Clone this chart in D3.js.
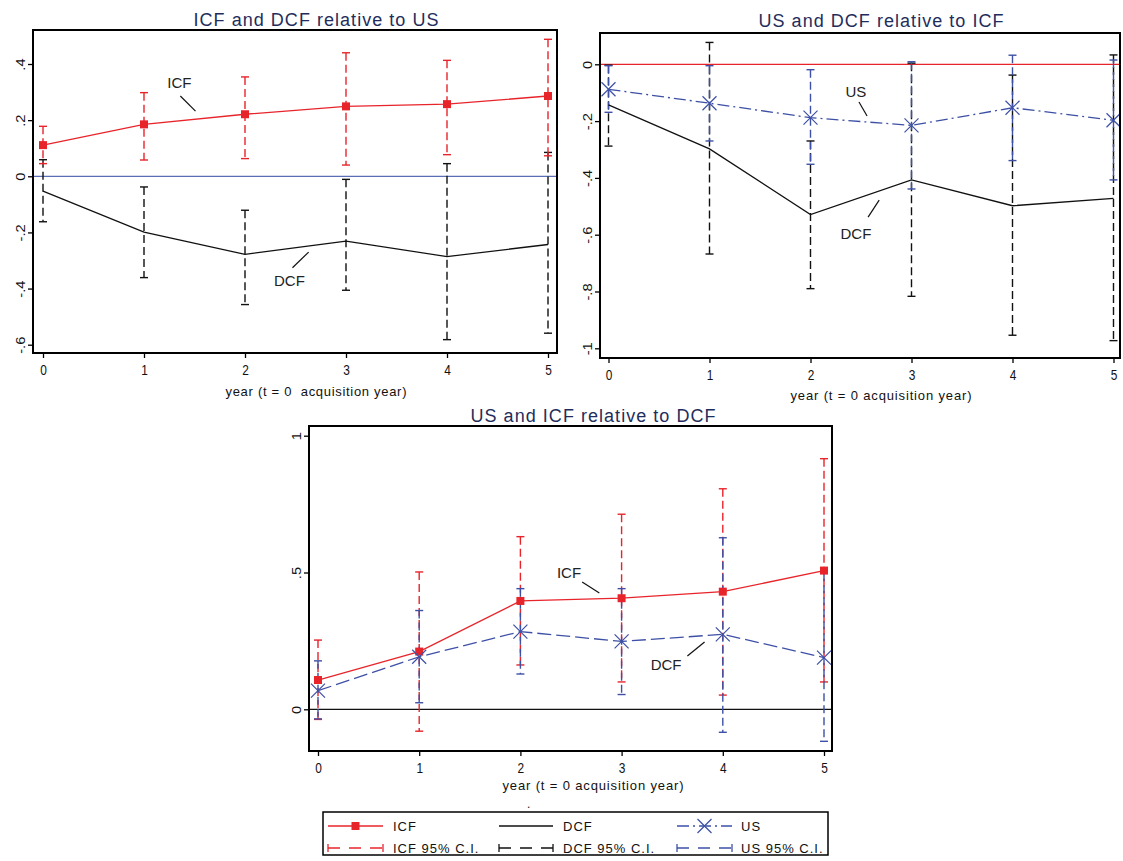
<!DOCTYPE html>
<html>
<head>
<meta charset="utf-8">
<script src="https://cdn.jsdelivr.net/npm/d3@7"></script>
<style>
  html, body { margin: 0; padding: 0; background: #fff; }
  svg { display: block; }
  text { font-family: "Liberation Sans", Arial, sans-serif; white-space: pre; }
</style>
</head>
<body>
<svg id="chart" width="1123" height="861"></svg>
<script>
// ---------------- DATA ----------------
const years = [0, 1, 2, 3, 4, 5];

// Panel 1: ICF and DCF relative to US
const p1Title = "ICF and DCF relative to US";
const p1XTitle = "year (t = 0  acquisition year)";
const p1YTicks = [-0.6, -0.4, -0.2, 0, 0.2, 0.4];
const p1IcfEst = [0.111, 0.185, 0.221, 0.249, 0.257, 0.286];
const p1IcfLo  = [0.045, 0.058, 0.063, 0.040, 0.077, 0.073];
const p1IcfHi  = [0.178, 0.298, 0.354, 0.440, 0.413, 0.488];
const p1DcfEst = [-0.053, -0.199, -0.278, -0.231, -0.286, -0.243];
const p1DcfLo  = [-0.162, -0.361, -0.457, -0.406, -0.582, -0.559];
const p1DcfHi  = [0.059, -0.038, -0.121, -0.011, 0.045, 0.085];

// Panel 2: US and DCF relative to ICF
const p2Title = "US and DCF relative to ICF";
const p2XTitle = "year (t = 0 acquisition year)";
const p2YTicks = [-1, -0.8, -0.6, -0.4, -0.2, 0];
const p2UsEst  = [-0.088, -0.137, -0.188, -0.215, -0.153, -0.197];
const p2UsLo   = [-0.169, -0.270, -0.352, -0.439, -0.339, -0.407];
const p2UsHi   = [-0.005, -0.005, -0.019, 0.009, 0.032, 0.015];
const p2DcfEst = [-0.143, -0.298, -0.529, -0.407, -0.498, -0.472];
const p2DcfLo  = [-0.288, -0.668, -0.790, -0.817, -0.954, -0.973];
const p2DcfHi  = [-0.003, 0.077, -0.270, 0.004, -0.038, 0.033];

// Panel 3: US and ICF relative to DCF
const p3Title = "US and ICF relative to DCF";
const p3XTitle = "year (t = 0 acquisition year)";
const p3YTicks = [0, 0.5, 1];
const p3IcfEst = [0.107, 0.211, 0.396, 0.406, 0.430, 0.507];
const p3IcfLo  = [-0.037, -0.080, 0.162, 0.100, 0.052, 0.100];
const p3IcfHi  = [0.253, 0.502, 0.631, 0.713, 0.806, 0.916];
const p3UsEst  = [0.068, 0.192, 0.284, 0.248, 0.274, 0.189];
const p3UsLo   = [-0.035, 0.024, 0.129, 0.054, -0.084, -0.117];
const p3UsHi   = [0.177, 0.361, 0.441, 0.441, 0.627, 0.497];

const legendLabels = ["ICF", "DCF", "US", "ICF 95% C.I.", "DCF 95% C.I.", "US 95% C.I."];

// ---------------- STYLE ----------------
const RED = "#e8242b", BLACK = "#111111", BLUE = "#3d50a5", REFBLUE = "#5a6fb5", NAVY = "#1f2d5c";
const svg = d3.select("#chart");
const fmt = v => v === 0 ? "0" : String(+v.toFixed(2)).replace(/^(-?)0\./, "$1.");

function drawPanel(cfg) {
  const g = svg.append("g");
  const x = d3.scaleLinear().domain([0, 5]).range(cfg.xRange);
  const y = d3.scaleLinear().domain([cfg.yTicks[0], cfg.yTicks[cfg.yTicks.length - 1]]).range(cfg.yRange);
  const f = cfg.frame;

  // reference line at 0
  g.append("line").attr("x1", f.l).attr("x2", f.r).attr("y1", y(0)).attr("y2", y(0))
    .attr("stroke", cfg.refColor).attr("stroke-width", 1.3);

  // CIs
  cfg.series.forEach(s => {
    const cg = g.append("g");
    years.forEach((yr, i) => {
      cg.append("line").attr("x1", x(yr)).attr("x2", x(yr))
        .attr("y1", y(s.hi[i])).attr("y2", y(s.lo[i]))
        .attr("stroke", s.color).attr("stroke-width", 1.4).attr("stroke-dasharray", "8,4");
      [s.hi[i], s.lo[i]].forEach(v => {
        cg.append("line").attr("x1", x(yr) - 4).attr("x2", x(yr) + 4)
          .attr("y1", y(v)).attr("y2", y(v)).attr("stroke", s.color).attr("stroke-width", 1.4);
      });
    });
  });

  // lines and markers
  cfg.series.forEach(s => {
    const line = d3.line().x((d, i) => x(years[i])).y(d => y(d));
    g.append("path").datum(s.est).attr("d", line).attr("fill", "none")
      .attr("stroke", s.color).attr("stroke-width", 1.3)
      .attr("stroke-dasharray", s.lineDash || null);
    if (s.marker === "square") {
      g.selectAll(null).data(s.est).enter().append("rect")
        .attr("x", (d, i) => x(years[i]) - 4).attr("y", d => y(d) - 4)
        .attr("width", 8).attr("height", 8).attr("fill", s.color);
    } else if (s.marker === "x") {
      s.est.forEach((d, i) => {
        const cx = x(years[i]), cy = y(d), r = 7;
        g.append("path").attr("d", `M${cx - r},${cy - r}L${cx + r},${cy + r}M${cx - r},${cy + r}L${cx + r},${cy - r}`)
          .attr("stroke", s.color).attr("stroke-width", 1.2).attr("fill", "none");
      });
    }
  });

  // frame
  g.append("rect").attr("x", f.l).attr("y", f.t).attr("width", f.r - f.l).attr("height", f.b - f.t)
    .attr("fill", "none").attr("stroke", "#000").attr("stroke-width", 2);

  // axes
  const xa = g.append("g").attr("transform", `translate(0,${f.b})`)
    .call(d3.axisBottom(x).tickValues(years).tickSize(5).tickPadding(6).tickFormat(d3.format("d")));
  xa.select(".domain").remove();
  xa.selectAll("line").attr("stroke-width", 1.3);
  xa.selectAll(".tick text").attr("font-size", 14).attr("fill", "#111")
    .attr("transform", "scale(0.85,1.05)");

  const ya = g.append("g").attr("transform", `translate(${f.l},0)`)
    .call(d3.axisLeft(y).tickValues(cfg.yTicks).tickSize(5).tickFormat(fmt));
  ya.select(".domain").remove();
  ya.selectAll("line").attr("stroke-width", 1.3);
  ya.selectAll(".tick text").attr("x", null).attr("dy", null)
    .attr("transform", "translate(-8,0) rotate(-90) scale(1.05,0.85)")
    .attr("text-anchor", "middle").attr("font-size", 14).attr("fill", "#111");

  // titles
  g.append("text").attr("x", cfg.titleX).attr("y", cfg.titleY).attr("text-anchor", "middle")
    .attr("font-size", 18).attr("fill", NAVY).attr("textLength", 245).attr("lengthAdjust", "spacing")
    .text(cfg.title);
  g.append("text").attr("x", cfg.titleX).attr("y", cfg.xTitleY).attr("text-anchor", "middle")
    .attr("font-size", 13).attr("fill", "#111").attr("textLength", 181).attr("lengthAdjust", "spacing")
    .text(cfg.xTitle);

  // annotations
  cfg.labels.forEach(a => {
    g.append("text").attr("x", x(a.x)).attr("y", y(a.y) + 6).attr("text-anchor", "middle")
      .attr("font-size", 15).attr("fill", "#222").text(a.text);
    g.append("line").attr("x1", x(a.lx1)).attr("y1", y(a.ly1)).attr("x2", x(a.lx2)).attr("y2", y(a.ly2))
      .attr("stroke", "#111").attr("stroke-width", 1.2);
  });
}

drawPanel({
  frame: {l: 33, r: 557, t: 30, b: 353},
  xRange: [43, 548], yRange: [344.7, 64], yTicks: p1YTicks,
  refColor: REFBLUE, title: p1Title, xTitle: p1XTitle, titleX: 316, titleY: 26, xTitleY: 396,
  series: [
    {est: p1DcfEst, lo: p1DcfLo, hi: p1DcfHi, color: BLACK, marker: null},
    {est: p1IcfEst, lo: p1IcfLo, hi: p1IcfHi, color: RED, marker: "square"}
  ],
  labels: [
    {text: "ICF", x: 1.35, y: 0.336, lx1: 1.36, ly1: 0.286, lx2: 1.51, ly2: 0.232},
    {text: "DCF", x: 2.44, y: -0.37, lx1: 2.47, ly1: -0.326, lx2: 2.63, ly2: -0.27}
  ]
});

drawPanel({
  frame: {l: 600, r: 1120, t: 33, b: 358},
  xRange: [608.5, 1113.5], yRange: [348.3, 64.3], yTicks: p2YTicks,
  refColor: RED, title: p2Title, xTitle: p2XTitle, titleX: 881, titleY: 27, xTitleY: 400,
  series: [
    {est: p2DcfEst, lo: p2DcfLo, hi: p2DcfHi, color: BLACK, marker: null},
    {est: p2UsEst, lo: p2UsLo, hi: p2UsHi, color: BLUE, marker: "x", lineDash: "12,4,2,4"}
  ],
  labels: [
    {text: "US", x: 2.45, y: -0.094, lx1: 2.48, ly1: -0.133, lx2: 2.56, ly2: -0.182},
    {text: "DCF", x: 2.45, y: -0.594, lx1: 2.57, ly1: -0.538, lx2: 2.68, ly2: -0.478}
  ]
});

drawPanel({
  frame: {l: 309, r: 832, t: 426, b: 751},
  xRange: [318, 824], yRange: [709.3, 435.7], yTicks: p3YTicks,
  refColor: BLACK, title: p3Title, xTitle: p3XTitle, titleX: 593, titleY: 422, xTitleY: 790,
  series: [
    {est: p3IcfEst, lo: p3IcfLo, hi: p3IcfHi, color: RED, marker: "square"},
    {est: p3UsEst, lo: p3UsLo, hi: p3UsHi, color: BLUE, marker: "x", lineDash: "14,5"}
  ],
  labels: [
    {text: "ICF", x: 2.48, y: 0.502, lx1: 2.61, ly1: 0.465, lx2: 2.78, ly2: 0.425},
    {text: "DCF", x: 3.44, y: 0.165, lx1: 3.65, ly1: 0.195, lx2: 3.82, ly2: 0.246}
  ]
});

// ---------------- LEGEND ----------------
const lg = svg.append("g");
lg.append("text").attr("x", 527).attr("y", 808).attr("font-size", 12).attr("fill", "#222").text(".");
lg.append("rect").attr("x", 323).attr("y", 812).attr("width", 505).attr("height", 43)
  .attr("fill", "#fff").attr("stroke", "#000").attr("stroke-width", 1.5);
const legendCols = [{x1: 328, x2: 383, tx: 393}, {x1: 499, x2: 553, tx: 563}, {x1: 677, x2: 732, tx: 741}];
const legendColors = [RED, BLACK, BLUE];
const legendRows = [826, 848];
legendLabels.forEach((lab, k) => {
  const c = k % 3, r = Math.floor(k / 3);
  const col = legendCols[c], yy = legendRows[r], color = legendColors[c];
  if (r === 0) {
    lg.append("line").attr("x1", col.x1).attr("x2", col.x2).attr("y1", yy).attr("y2", yy)
      .attr("stroke", color).attr("stroke-width", 1.3)
      .attr("stroke-dasharray", c === 2 ? "12,4,2,4" : null);
    const mx = (col.x1 + col.x2) / 2;
    if (c === 0) lg.append("rect").attr("x", mx - 4).attr("y", yy - 4).attr("width", 8).attr("height", 8).attr("fill", color);
    if (c === 2) lg.append("path").attr("d", `M${mx - 7},${yy - 7}L${mx + 7},${yy + 7}M${mx - 7},${yy + 7}L${mx + 7},${yy - 7}`)
      .attr("stroke", color).attr("stroke-width", 1.2);
  } else {
    lg.append("line").attr("x1", col.x1).attr("x2", col.x2).attr("y1", yy).attr("y2", yy)
      .attr("stroke", color).attr("stroke-width", 1.3).attr("stroke-dasharray", "12,9");
    [col.x1, col.x2].forEach(xx => lg.append("line").attr("x1", xx).attr("x2", xx)
      .attr("y1", yy - 4).attr("y2", yy + 4).attr("stroke", color).attr("stroke-width", 1.3));
  }
  lg.append("text").attr("x", col.tx).attr("y", yy + 5).attr("font-size", 13)
    .attr("letter-spacing", 1).attr("fill", "#111").text(lab);
});
</script>
</body>
</html>
